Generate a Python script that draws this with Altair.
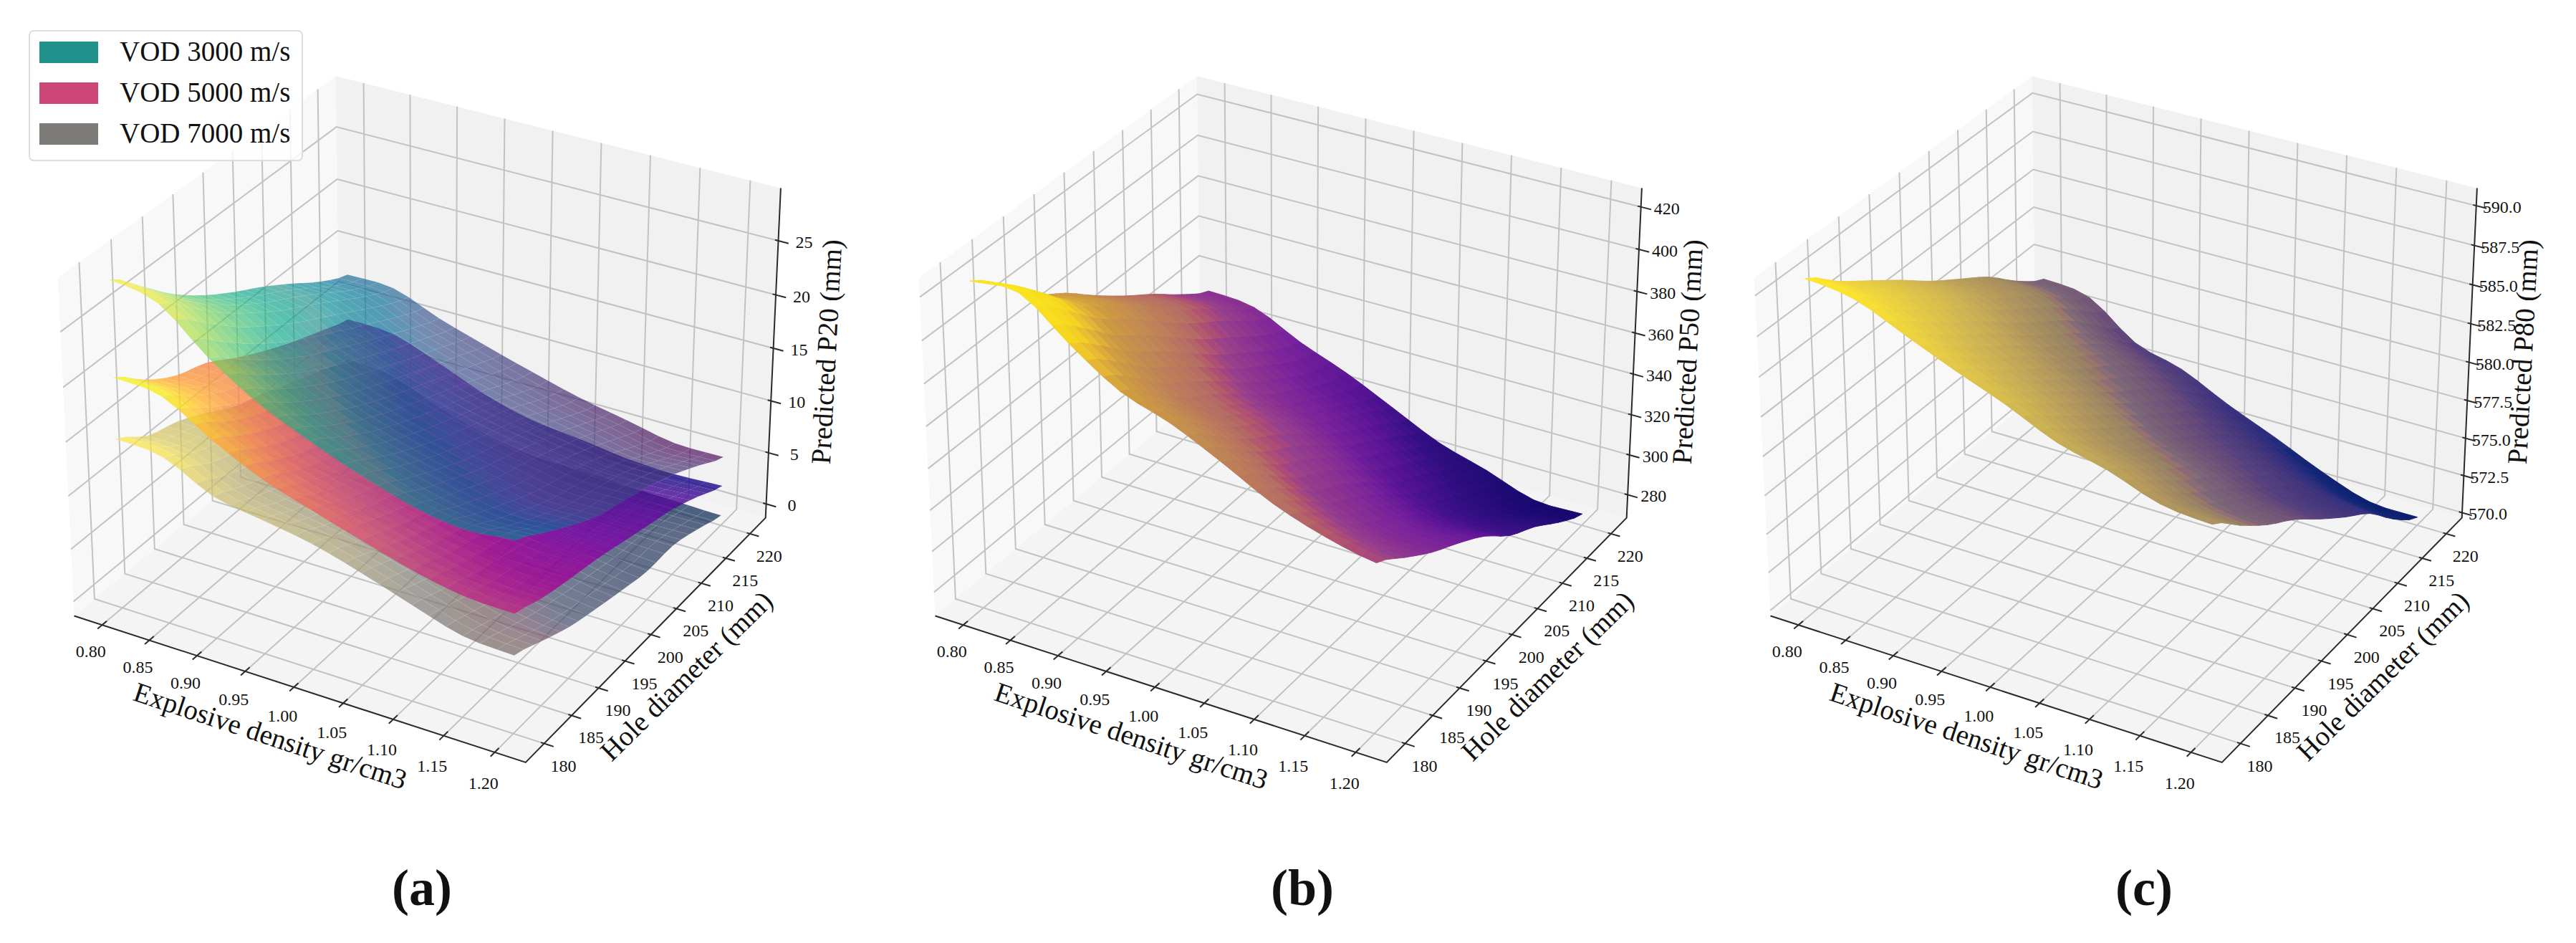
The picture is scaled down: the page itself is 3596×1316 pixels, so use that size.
import math
import altair as alt
import numpy as np
import pandas as pd

# ---- values (rows: hole diameter 180..220, columns: density 0.80..1.20)
DENSITY = [0.80, 0.85, 0.90, 0.95, 1.00, 1.05, 1.10, 1.15, 1.20]
DIAMETER = [180, 185, 190, 195, 200, 205, 210, 215, 220]

P20_VOD3000 = [
    [29.0, 28.1, 24.5, 21.7, 19.7, 18.0, 16.6, 15.9, 16.3],
    [26.3, 25.6, 22.2, 19.6, 17.8, 16.3, 15.0, 14.3, 14.6],
    [23.5, 23.0, 20.0, 17.7, 16.0, 14.7, 13.6, 12.8, 12.9],
    [21.3, 20.9, 18.1, 16.0, 14.5, 13.3, 12.2, 11.4, 11.4],
    [19.5, 19.0, 16.5, 14.6, 13.2, 12.1, 11.2, 10.4, 10.5],
    [17.9, 17.4, 15.0, 13.3, 12.0, 11.0, 10.1, 9.5, 9.5],
    [16.1, 15.7, 13.6, 12.0, 10.8, 9.8, 8.9, 8.2, 8.3],
    [14.2, 14.0, 12.2, 10.8, 9.4, 8.3, 7.5, 6.6, 6.8],
    [12.8, 12.7, 11.0, 9.6, 8.3, 7.1, 6.2, 5.3, 5.3],
]
P20_VOD5000 = [
    [20.2, 19.8, 17.2, 15.0, 13.5, 12.1, 10.8, 9.9, 9.7],
    [17.8, 17.6, 15.3, 13.3, 12.0, 10.8, 9.6, 8.8, 8.7],
    [16.0, 15.8, 13.7, 11.9, 10.7, 9.6, 8.6, 8.0, 8.0],
    [15.0, 14.7, 12.6, 10.8, 9.7, 8.7, 7.8, 7.3, 7.4],
    [13.3, 13.0, 11.2, 9.6, 8.6, 7.7, 6.9, 6.5, 6.6],
    [11.8, 11.5, 9.8, 8.3, 7.4, 6.6, 6.0, 5.6, 5.8],
    [10.5, 10.2, 8.7, 7.3, 6.3, 5.6, 5.0, 4.8, 5.0],
    [9.4, 9.2, 7.6, 6.0, 4.9, 4.3, 3.8, 3.5, 3.8],
    [8.4, 8.2, 6.6, 4.8, 3.6, 3.1, 2.5, 2.3, 2.5],
]
P20_VOD7000 = [
    [14.6, 14.2, 12.0, 11.2, 10.4, 9.1, 7.6, 6.2, 5.9],
    [12.6, 12.4, 10.6, 9.7, 9.0, 7.9, 6.5, 5.2, 4.7],
    [11.7, 11.3, 9.5, 8.5, 7.8, 6.8, 5.5, 4.2, 3.5],
    [10.3, 10.0, 8.3, 7.2, 6.5, 5.6, 4.5, 3.4, 2.7],
    [8.7, 8.4, 6.8, 5.8, 5.2, 4.4, 3.5, 2.7, 2.0],
    [7.8, 7.5, 5.9, 4.8, 4.0, 3.3, 2.6, 2.0, 1.4],
    [6.6, 6.3, 4.9, 3.7, 2.9, 2.3, 1.7, 1.4, 1.4],
    [5.5, 5.2, 3.6, 2.3, 1.5, 1.1, 0.7, 0.5, 0.6],
    [4.4, 4.0, 2.2, 0.9, 0.1, 0.0, -0.2, -0.3, -0.4],
]
P50_SURFACE = [
    [424, 425, 408, 393, 385, 374, 362, 354, 349],
    [411, 412, 396, 381, 373, 362, 351, 343, 339],
    [396, 397, 382, 367, 360, 349, 338, 331, 329],
    [386, 386, 371, 357, 350, 340, 329, 322, 321],
    [374, 374, 359, 346, 339, 329, 318, 311, 312],
    [363, 362, 347, 334, 327, 317, 306, 300, 300],
    [353, 352, 337, 325, 318, 308, 298, 291, 292],
    [342, 341, 327, 316, 309, 298, 289, 281, 282],
    [333, 331, 320, 311, 300, 289, 282, 274, 274],
]
P80_SURFACE = [
    [590.6, 590.2, 588.9, 587.6, 586.4, 585.0, 584.2, 583.1, 582.8],
    [589.0, 588.7, 587.4, 586.1, 584.9, 583.5, 582.7, 581.5, 581.1],
    [587.6, 587.3, 585.9, 584.6, 583.4, 582.0, 581.1, 579.9, 579.5],
    [586.2, 585.9, 584.5, 583.2, 581.9, 580.6, 579.7, 578.6, 578.2],
    [584.7, 584.4, 582.9, 581.6, 580.3, 579.0, 578.1, 577.0, 576.6],
    [583.4, 583.0, 581.5, 580.3, 578.9, 577.6, 576.6, 575.5, 575.1],
    [582.1, 581.7, 580.1, 578.9, 577.5, 576.1, 575.0, 574.1, 573.7],
    [580.4, 580.1, 578.3, 577.2, 575.7, 574.4, 573.2, 572.1, 571.7],
    [579.1, 578.7, 576.5, 575.6, 574.1, 572.8, 571.4, 570.3, 570.2],
]

X_TICKS = [0.80, 0.85, 0.90, 0.95, 1.00, 1.05, 1.10, 1.15, 1.20]
Y_TICKS = [180, 185, 190, 195, 200, 205, 210, 215, 220]
Z_TICKS_A = [0, 5, 10, 15, 20, 25]
Z_TICKS_B = [280, 300, 320, 340, 360, 380, 400, 420]
Z_TICKS_C = [570.0, 572.5, 575.0, 577.5, 580.0, 582.5, 585.0, 587.5, 590.0]
LEGEND_LABELS = ["VOD 3000 m/s", "VOD 5000 m/s", "VOD 7000 m/s"]
LEGEND_COLORS = ["#21918c", "#cc4778", "#7c7b78"]

W, H = 3580, 1300
XLIM = (0.770, 1.230)
YLIM = (176.7, 223.3)
FONT = "Liberation Serif"

VIRIDIS = ["#440154", "#3b528b", "#21918c", "#5ec962", "#fde725"]
PLASMA = ["#0d0887", "#7e03a8", "#cc4778", "#f89540", "#f0f921"]
CIVIDIS = ["#00224e", "#414d6b", "#7c7b78", "#b8ac6e", "#fee838"]
P50_STOPS = ([273, 294, 309, 323, 344, 358, 375, 390, 408, 425],
             ["#14086e", "#320f82", "#5a1496", "#78239b", "#96418c", "#b46e64", "#be8755",
              "#cd9b41", "#f5d71e", "#fae61e"])
P80_STOPS = ([570, 572.2, 573.3, 576.5, 580, 581, 585, 590],
             ["#0a1e6e", "#142878", "#2d2d7d", "#55417d", "#7d6978", "#968264", "#c8af55", "#fae132"])


def proj(xf, yf, zf, off):
    """Camera of a default 3D plot (elevation 30, azimuth -60)."""
    rx, ry, rz = (xf - .5) * 1.1905, (yf - .5) * 1.1905, (zf - .5) * .8929
    xc = .866025 * rx + .5 * ry
    yc = -.25 * rx + .433013 * ry + .866025 * rz
    d = 10 - (.433013 * rx - .75 * ry + .5 * rz)
    return 595 + 6065 * xc / d + off - 8, 562 - 6023 * yc / d - 8, d


def frac(v, lim):
    return (v - lim[0]) / (lim[1] - lim[0])


def feature(kind, pts, **props):
    c = [[round(float(p[0]), 1), round(float(p[1]), 1)] for p in pts]
    if kind == "Polygon":
        c = [c + [c[0]]]
    return {"type": "Feature", "geometry": {"type": kind, "coordinates": c}, "properties": props}


def geo(features, **mark):
    return alt.Chart(alt.Data(values=features)).mark_geoshape(**mark).project(
        type="identity", scale=1, translate=[0, 0]
    )


def smooth(arr, sub):
    """Curved drawing of a row of surface values between the values that were read."""
    n = len(arr)
    out = []
    for k in range(n - 1):
        p0, p1, p2, p3 = arr[max(k - 1, 0)], arr[k], arr[k + 1], arr[min(k + 2, n - 1)]
        for s in range(sub):
            t = s / sub
            out.append(.5 * (2 * p1 + (p2 - p0) * t + (2 * p0 - 5 * p1 + 4 * p2 - p3) * t * t
                             + (3 * p1 - p0 - 3 * p2 + p3) * t ** 3))
    out.append(arr[-1])
    return np.array(out)


def surface_features(table, zlim, off, sub=3):
    z = np.array(table, dtype=float)
    z = np.array([smooth(r, sub) for r in z])
    z = np.array([smooth(c, sub) for c in z.T]).T
    xs = np.linspace(DENSITY[0], DENSITY[-1], z.shape[1])
    ys = np.linspace(DIAMETER[0], DIAMETER[-1], z.shape[0])
    out = []
    for j in range(z.shape[0] - 1):
        for i in range(z.shape[1] - 1):
            corners = [(xs[ii], ys[jj], z[jj, ii]) for jj, ii in ((j, i), (j, i + 1), (j + 1, i + 1), (j + 1, i))]
            pts = [proj(frac(c[0], XLIM), frac(c[1], YLIM), frac(c[2], zlim), off) for c in corners]
            depth = sum(p[2] for p in pts) / 4
            zm = sum(c[2] for c in corners) / 4
            out.append((depth, feature("Polygon", pts, z=round(float(zm), 2))))
    out.sort(key=lambda t: -t[0])
    return [f for _, f in out]


PANELS = [
    dict(off=0, zlim=(-1.37, 29.8), zt=Z_TICKS_A, fmt="{:.0f}", ztitle="Predicted P20 (mm)", cap="(a)"),
    dict(off=1202, zlim=(268.3, 428.8), zt=Z_TICKS_B, fmt="{:.0f}", ztitle="Predicted P50 (mm)", cap="(b)"),
    dict(off=2368, zlim=(569.65, 591.1), zt=Z_TICKS_C, fmt="{:.1f}", ztitle="Predicted P80 (mm)", cap="(c)"),
]

panes, grid, axes, ticks = [], [], [], []
tick_rows, title_rows, cap_rows = [], [], []
for p in PANELS:
    o, zl = p["off"], p["zlim"]
    P = lambda a, b, c: proj(a, b, c, o)[:2]
    panes.append(feature("Polygon", [P(0, 0, 0), P(0, 1, 0), P(0, 1, 1), P(0, 0, 1)], c="#f8f8f8"))
    panes.append(feature("Polygon", [P(0, 1, 0), P(1, 1, 0), P(1, 1, 1), P(0, 1, 1)], c="#f1f1f1"))
    panes.append(feature("Polygon", [P(0, 0, 0), P(1, 0, 0), P(1, 1, 0), P(0, 1, 0)], c="#f4f4f4"))
    for v in X_TICKS:
        f = frac(v, XLIM)
        grid.append(feature("LineString", [P(f, 0, 0), P(f, 1, 0), P(f, 1, 1)]))
        ticks.append(feature("LineString", [P(f, -.016, 0), P(f, .016, 0)]))
        a = P(f, 0, 0)
        tick_rows.append(dict(px=a[0] - 16, py=a[1] + 37 + 8 * f, t=f"{v:.2f}"))
    for v in Y_TICKS:
        f = frac(v, YLIM)
        grid.append(feature("LineString", [P(1, f, 0), P(0, f, 0), P(0, f, 1)]))
        ticks.append(feature("LineString", [P(.993, f, 0), P(1.02, f, 0)]))
        a = P(1, f, 0)
        tick_rows.append(dict(px=a[0] + 27, py=a[1] + 32, t=f"{v:.0f}"))
    for v in p["zt"]:
        f = frac(v, zl)
        grid.append(feature("LineString", [P(0, 0, f), P(0, 1, f), P(1, 1, f)]))
        ticks.append(feature("LineString", [P(.993, 1, f), P(1.022, 1, f)]))
        a = P(1, 1, f)
        tick_rows.append(dict(px=a[0] + 36, py=a[1] + 3, t=p["fmt"].format(v)))
    axes.append(feature("LineString", [P(0, 0, 0), P(1, 0, 0), P(1, 1, 0), P(1, 1, 1)]))
    title_rows += [
        dict(px=369 + o, py=1020, t="Explosive density gr/cm3", angle=18.3),
        dict(px=951 + o, py=936, t="Hole diameter (mm)", angle=315.6),
        dict(px=1147 + o, py=483, t=p["ztitle"], angle=273),
    ]
    cap_rows.append(dict(t=p["cap"]))
cap_rows[0].update(px=581, py=1233)
cap_rows[1].update(px=1810, py=1233)
cap_rows[2].update(px=2985, py=1233)

XS = alt.Scale(domain=[0, W], range=[0, W])
YS = alt.Scale(domain=[0, H], range=[0, H])


def text_layer(rows, size, **mark):
    enc = dict(x=alt.X("px:Q", scale=XS, axis=None), y=alt.Y("py:Q", scale=YS, axis=None), text="t:N")
    if "angle" in rows[0]:
        enc["angle"] = alt.Angle("angle:Q", scale=None)
    return alt.Chart(pd.DataFrame(rows)).mark_text(
        font=FONT, fontSize=size, baseline="middle", color="#111111", **{"align": "center", **mark}
    ).encode(**enc)


def surface_layer(table, zlim, off, domain, colors, opaque, mesh=0.0, alpha=.7):
    scale = alt.Scale(domain=domain, range=colors)
    if opaque:
        return geo(surface_features(table, zlim, off), strokeWidth=1).encode(
            fill=alt.Fill("properties.z:Q", scale=scale, legend=None),
            stroke=alt.Stroke("properties.z:Q", scale=scale, legend=None),
        )
    return geo(surface_features(table, zlim, off), fillOpacity=alpha, stroke="white", strokeWidth=1,
               strokeOpacity=mesh).encode(
        fill=alt.Fill("properties.z:Q", scale=scale, legend=None)
    )


def stops(lo, hi):
    return [lo + (hi - lo) * k / 4 for k in range(5)]


za = PANELS[0]["zlim"]
layers = [
    geo(panes, strokeOpacity=0).encode(fill=alt.Fill("properties.c:N", scale=None)),
    geo(grid, filled=False, stroke="#c2c2c2", strokeWidth=2),
    surface_layer(P20_VOD7000, za, 0, stops(-.4, 14.6), CIVIDIS, False, mesh=.07),
    surface_layer(P20_VOD5000, za, 0, stops(2.3, 20.2), PLASMA, False, alpha=.8),
    surface_layer(P20_VOD3000, za, 0, stops(5.3, 29.0), VIRIDIS, False, mesh=.05, alpha=.66),
    surface_layer(P50_SURFACE, PANELS[1]["zlim"], 1202, P50_STOPS[0], P50_STOPS[1], True),
    surface_layer(P80_SURFACE, PANELS[2]["zlim"], 2368, P80_STOPS[0], P80_STOPS[1], True),
    geo(axes, filled=False, stroke="#2a2a2a", strokeWidth=2),
    geo(ticks, filled=False, stroke="#2a2a2a", strokeWidth=2),
    text_layer(tick_rows, 24),
    text_layer(title_rows, 39),
    text_layer(cap_rows, 72, fontWeight="bold"),
]

# legend box, swatches and labels
box = pd.DataFrame([dict(x=33, x2=414, y=35, y2=216)])
layers.append(
    alt.Chart(box).mark_rect(fill="white", fillOpacity=.8, stroke="#dcdcdc", strokeWidth=2, cornerRadius=6).encode(
        x=alt.X("x:Q", scale=XS, axis=None), x2="x2:Q", y=alt.Y("y:Q", scale=YS, axis=None), y2="y2:Q"
    )
)
sw = pd.DataFrame([dict(x=47, x2=129, y=50 + 57 * k, y2=80 + 57 * k, c=LEGEND_COLORS[k]) for k in range(3)])
layers.append(
    alt.Chart(sw).mark_rect().encode(
        x=alt.X("x:Q", scale=XS, axis=None), x2="x2:Q", y=alt.Y("y:Q", scale=YS, axis=None), y2="y2:Q",
        fill=alt.Fill("c:N", scale=None),
    )
)
layers.append(text_layer([dict(px=159, py=65 + 57 * k, t=LEGEND_LABELS[k]) for k in range(3)], 39, align="left"))

chart = (
    alt.layer(*layers)
    .resolve_scale(fill="independent", stroke="independent")
    .properties(width=W, height=H, padding=0, autosize=alt.AutoSizeParams(type="none"), background="white")
    .configure_view(stroke=None)
)
chart.save("out.html", embed_options={"renderer": "svg", "actions": False})
